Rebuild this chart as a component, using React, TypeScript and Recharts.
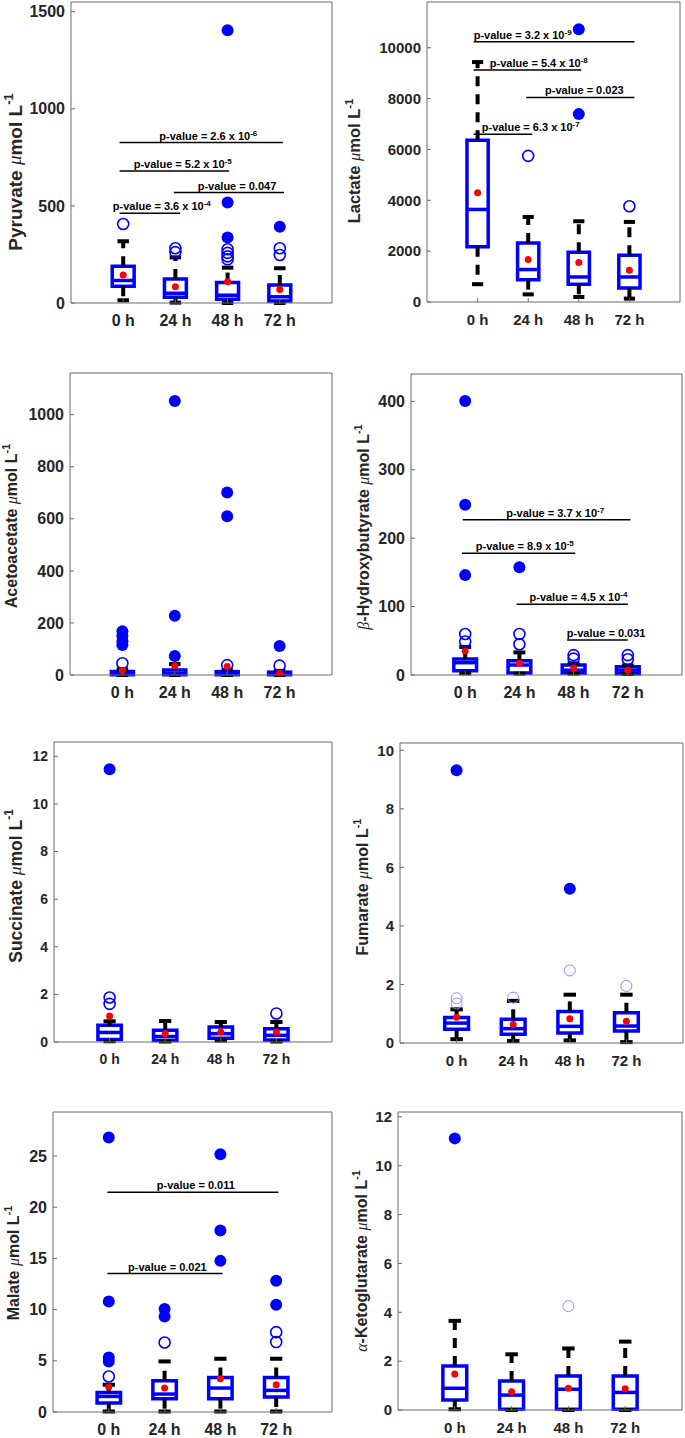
import React from 'react';
import { ComposedChart, XAxis, YAxis, Scatter, ReferenceArea, ReferenceLine } from 'recharts';

const timeLabels = ['0 h', '24 h', '48 h', '72 h'];
const groupX = [1, 2, 3, 4];

// box rows: [lower cap, q1, median, q3, upper cap] per time point
// p-values: [from x, to x, line y, text x, value, exponent]

const pyruvateTicks = [0, 500, 1000, 1500];
const pyruvateBox = [[14, 86, 116, 189, 318], [2, 29, 50, 124, 235], [0, 19, 40, 105, 182], [0, 10, 32, 93, 179]];
const pyruvateMean = [144, 84, 110, 70];
const pyruvateOpen = [[407], [282, 262], [277, 258, 240, 225], [282, 247]];
const pyruvateFilled = [[], [], [337, 517, 1404], [393]];
const pyruvateP = [
  [0.93, 2.09, 462, 1.74, '3.6 x 10', '-4'],
  [1.97, 4.08, 569, 3.18, '0.047', ''],
  [0.93, 3.03, 680, 2.14, '5.2 x 10', '-5'],
  [0.93, 4.06, 826, 2.63, '2.6 x 10', '-6'],
];

const lactateTicks = [0, 2000, 4000, 6000, 8000, 10000];
const lactateBox = [[700, 2170, 3640, 6366, 9437], [300, 880, 1276, 2323, 3346], [197, 697, 984, 1957, 3177], [134, 551, 984, 1839, 3150]];
const lactateMean = [4300, 1669, 1551, 1248];
const lactateOpen = [[], [5748], [], [3768]];
const lactateFilled = [[], [], [7390, 10724], []];
const lactateP = [
  [0.92, 2.08, 6602, 2.05, '6.3 x 10', '-7'],
  [1.96, 4.1, 8047, 3.11, '0.023', ''],
  [0.92, 3.05, 9122, 2.21, '5.4 x 10', '-8'],
  [0.92, 4.1, 10236, 1.89, '3.2 x 10', '-9'],
];

const acetoTicks = [0, 200, 400, 600, 800, 1000];
const acetoBox = [[0, 1, 5, 13, 22], [0, 1, 6, 19, 42], [0, 1, 5, 13, 18], [0, 1, 4, 11, 16]];
const acetoMean = [17, 36, 33, 6];
const acetoOpen = [[45], [], [38], [36]];
const acetoFilled = [[115, 130, 150, 168], [73, 228, 1052], [610, 701], [111]];
const acetoP: (number | string)[][] = [];

const hydroxyTicks = [0, 100, 200, 300, 400];
const hydroxyBox = [[2.4, 6.3, 18, 23.4, 41], [2, 3, 14.6, 21, 33], [2, 3, 7, 14.6, 17], [1.5, 2, 7, 12, 14]];
const hydroxyMean = [35, 17, 9.8, 7];
const hydroxyOpen = [[49, 60], [45, 60], [24, 29], [23, 29]];
const hydroxyFilled = [[146, 249, 400.5], [157.5], [], []];
const hydroxyP = [
  [2.88, 4.0, 51.2, 3.6, '0.031', ''],
  [1.95, 4.0, 103.4, 3.09, '4.5 x 10', '-4'],
  [0.94, 3.03, 178, 2.1, '8.9 x 10', '-5'],
  [0.955, 4.05, 226.8, 2.66, '3.7 x 10', '-7'],
];

const succinateTicks = [0, 2, 4, 6, 8, 10, 12];
const succinateBox = [[0.03, 0.1, 0.4, 0.7, 0.87], [0.02, 0.06, 0.23, 0.49, 0.88], [0.06, 0.16, 0.35, 0.63, 0.84], [0.02, 0.08, 0.28, 0.56, 0.84]];
const succinateMean = [1.09, 0.35, 0.42, 0.42];
const succinateOpen = [[1.6, 1.87], [], [], [1.2]];
const succinateFilled = [[11.46], [], [], []];
const succinateP: (number | string)[][] = [];

const fumarateTicks = [0, 2, 4, 6, 8, 10];
const fumarateBox = [[0.13, 0.47, 0.68, 0.87, 1.15], [0.07, 0.3, 0.49, 0.81, 1.44], [0.09, 0.34, 0.57, 1.08, 1.65], [0.03, 0.41, 0.58, 1.03, 1.65]];
const fumarateMean = [0.88, 0.63, 0.83, 0.74];
const fumarateOpen = [[1.35, 1.53], [1.55], [2.48], [1.95]];
const fumarateFilled = [[9.32], [], [5.27], []];
const fumarateP: (number | string)[][] = [];

const malateTicks = [0, 5, 10, 15, 20, 25];
const malateBox = [[0.05, 0.88, 1.52, 1.91, 2.66], [0.05, 1.3, 1.75, 3.05, 4.94], [0.05, 1.3, 2.34, 3.38, 5.2], [0.05, 1.46, 2.11, 3.38, 5.2]];
const malateMean = [2.44, 2.34, 3.25, 2.66];
const malateOpen = [[3.47], [6.79], [], [6.83, 7.8]];
const malateFilled = [[4.94, 5.33, 10.8, 26.8], [9.33, 10.05], [14.76, 17.72, 25.17], [10.47, 12.81]];
const malateP = [
  [0.975, 3.04, 13.52, 2.05, '0.021', ''],
  [0.975, 4.04, 21.46, 2.56, '0.011', ''],
];

const ketoTicks = [0, 2, 4, 6, 8, 10, 12];
const ketoBox = [[0.03, 0.41, 0.89, 1.8, 3.65], [0, 0.03, 0.61, 1.19, 2.28], [0, 0.03, 0.85, 1.39, 2.52], [0, 0.03, 0.72, 1.39, 2.8]];
const ketoMean = [1.47, 0.75, 0.89, 0.87];
const ketoOpen = [[], [], [4.25], []];
const ketoFilled = [[11.12], [], [], []];
const ketoP: (number | string)[][] = [];

const panels = [
  { greek: '', name: 'Pyruvate', yMax: 1550, ticks: pyruvateTicks, box: pyruvateBox, mean: pyruvateMean, open: pyruvateOpen, filled: pyruvateFilled, pvals: pyruvateP },
  { greek: '', name: 'Lactate', yMax: 11800, ticks: lactateTicks, box: lactateBox, mean: lactateMean, open: lactateOpen, filled: lactateFilled, pvals: lactateP },
  { greek: '', name: 'Acetoacetate', yMax: 1160, ticks: acetoTicks, box: acetoBox, mean: acetoMean, open: acetoOpen, filled: acetoFilled, pvals: acetoP },
  { greek: 'β', name: '-Hydroxybutyrate', yMax: 440, ticks: hydroxyTicks, box: hydroxyBox, mean: hydroxyMean, open: hydroxyOpen, filled: hydroxyFilled, pvals: hydroxyP },
  { greek: '', name: 'Succinate', yMax: 12.6, ticks: succinateTicks, box: succinateBox, mean: succinateMean, open: succinateOpen, filled: succinateFilled, pvals: succinateP },
  { greek: '', name: 'Fumarate', yMax: 10.25, ticks: fumarateTicks, box: fumarateBox, mean: fumarateMean, open: fumarateOpen, filled: fumarateFilled, pvals: fumarateP },
  { greek: '', name: 'Malate', yMax: 29.3, ticks: malateTicks, box: malateBox, mean: malateMean, open: malateOpen, filled: malateFilled, pvals: malateP },
  { greek: 'α', name: '-Ketoglutarate', yMax: 12.2, ticks: ketoTicks, box: ketoBox, mean: ketoMean, open: ketoOpen, filled: ketoFilled, pvals: ketoP },
];

// plot box on the page: left, top, right, bottom, title x, title centre y, title size, tick size, faint open circles
const frames: [number, number, number, number, number, number, number, number, boolean][] = [
  [71, 2, 332, 303, 17, 172, 19, 16, false],
  [427, 2, 680, 302, 356, 161, 16.5, 15, false],
  [70, 373, 332, 675, 13, 526, 16, 16, false],
  [411, 374, 682, 675, 365, 527, 16, 16, false],
  [54, 742, 332, 1042, 17, 886, 17.5, 14, false],
  [400, 743, 683, 1043, 364, 887, 16, 15, true],
  [53, 1112, 332, 1412, 15, 1263, 16, 16, false],
  [398, 1112, 682, 1410, 363, 1261, 16, 15, true],
];

const FONT = '"Liberation Sans", Arial, Helvetica, sans-serif';
const SERIF = '"Liberation Serif", "Times New Roman", serif';
const INK = '#262626';
const AXIS = '#6b6b6b';
const BLUE = '#0000ff';
const HALF = 0.21;
const CAP = 0.11;

function AxisTitle({ x, y, size, greek, name }: { x: number; y: number; size: number; greek: string; name: string }) {
  return (
    <text
      x={x}
      y={y}
      transform={`rotate(-90 ${x} ${y})`}
      textAnchor="middle"
      dominantBaseline="middle"
      fill={INK}
      fontFamily={FONT}
      fontSize={size}
      fontWeight="bold"
    >
      {greek && <tspan fontFamily={SERIF} fontStyle="italic" fontWeight="normal">{greek}</tspan>}
      <tspan>{name} </tspan>
      <tspan fontFamily={SERIF} fontStyle="italic" fontWeight="normal">μ</tspan>
      <tspan>mol L</tspan>
      <tspan fontSize={size * 0.68} dy={-size * 0.38}>-1</tspan>
    </text>
  );
}

function BoxPanel({ idx }: { idx: number }) {
  const p = panels[idx];
  const [pl, pt, pr, pb, lx, ly, ls, fs, faint] = frames[idx];
  const col = idx % 2;
  const chartLeft = col * 342;
  const width = col ? 343 : 342;
  const chartTop = Math.max(0, pt - 12);
  const height = pb - chartTop + 34;
  // the top and right axes are 1px thick, so take that off the margins
  const margin = { top: pt - chartTop - 1, right: chartLeft + width - pr - 1, bottom: 4, left: 0 };

  const meanData = p.mean.map((v, i) => ({ x: groupX[i], y: v }));
  const openData = p.open.flatMap((vals, i) => vals.map((v) => ({ x: groupX[i], y: v })));
  const filledData = p.filled.flatMap((vals, i) => vals.map((v) => ({ x: groupX[i], y: v })));
  const textData = p.pvals.map((r) => ({ x: r[3] as number, y: r[2] as number, t: r[4] as string, e: r[5] as string }));

  const tickStyle = { fill: INK, fontSize: fs, fontWeight: 'bold', fontFamily: FONT };

  return (
    <div style={{ position: 'absolute', left: chartLeft, top: chartTop, width, height }}>
      <ComposedChart width={width} height={height} margin={margin}>
        <XAxis
          type="number"
          dataKey="x"
          domain={[0, 5]}
          ticks={groupX}
          interval={0}
          allowDataOverflow
          tickFormatter={(v: number) => timeLabels[v - 1]}
          height={30}
          tickSize={-4}
          tickMargin={16}
          stroke={AXIS}
          tick={tickStyle}
        />
        <XAxis xAxisId="top" orientation="top" type="number" domain={[0, 5]} ticks={groupX} interval={0} allowDataOverflow height={1} tickSize={-4} stroke={AXIS} tick={false} />
        <YAxis
          type="number"
          dataKey="y"
          domain={[0, p.yMax]}
          ticks={p.ticks}
          interval={0}
          allowDataOverflow
          width={pl - chartLeft}
          tickSize={-4}
          tickMargin={10}
          stroke={AXIS}
          tick={tickStyle}
          label={{
            content: () => (
              <AxisTitle x={lx - chartLeft} y={ly - chartTop} size={ls} greek={p.greek} name={p.name} />
            ),
          }}
        />
        <YAxis yAxisId="right" orientation="right" type="number" domain={[0, p.yMax]} ticks={p.ticks} interval={0} allowDataOverflow width={1} tickSize={-4} stroke={AXIS} tick={false} />

        {p.box.map(([lo, q1, med, q3, hi], i) => {
          const x = groupX[i];
          return (
            <React.Fragment key={`b${i}`}>
              <ReferenceLine segment={[{ x, y: q3 }, { x, y: hi }]} stroke="#000" strokeWidth={4} strokeDasharray="10 8" ifOverflow="extendDomain" />
              <ReferenceLine segment={[{ x, y: q1 }, { x, y: lo }]} stroke="#000" strokeWidth={4} strokeDasharray="10 8" ifOverflow="extendDomain" />
              <ReferenceLine segment={[{ x: x - CAP, y: hi }, { x: x + CAP, y: hi }]} stroke="#000" strokeWidth={4} ifOverflow="extendDomain" />
              <ReferenceLine segment={[{ x: x - CAP, y: lo }, { x: x + CAP, y: lo }]} stroke="#000" strokeWidth={4} ifOverflow="extendDomain" />
              <ReferenceArea x1={x - HALF} x2={x + HALF} y1={q1} y2={q3} fill="#ffffff" fillOpacity={1} stroke={BLUE} strokeWidth={3.5} ifOverflow="extendDomain" />
              <ReferenceLine segment={[{ x: x - HALF, y: med }, { x: x + HALF, y: med }]} stroke={BLUE} strokeWidth={3.5} ifOverflow="extendDomain" />
            </React.Fragment>
          );
        })}

        {p.pvals.map((r, i) => (
          <ReferenceLine
            key={`p${i}`}
            segment={[{ x: r[0] as number, y: r[2] as number }, { x: r[1] as number, y: r[2] as number }]}
            stroke="#000"
            strokeWidth={1.5}
          />
        ))}

        <Scatter
          data={openData}
          isAnimationActive={false}
          shape={(s: any) => (
            <circle cx={s.cx} cy={s.cy} r={5.5} fill="none" stroke={faint ? '#8c8cff' : BLUE} strokeWidth={faint ? 1 : 1.6} />
          )}
        />
        <Scatter
          data={filledData}
          isAnimationActive={false}
          shape={(s: any) => <circle cx={s.cx} cy={s.cy} r={6} fill={BLUE} />}
        />
        <Scatter
          data={meanData}
          isAnimationActive={false}
          shape={(s: any) => <circle cx={s.cx} cy={s.cy} r={3.5} fill="#ff0000" />}
        />
        <Scatter
          data={textData}
          isAnimationActive={false}
          shape={(s: any) => (
            <text x={s.cx} y={s.cy - 3} textAnchor="middle" fontFamily={FONT} fontSize={11} fontWeight="bold" fill="#000">
              {`p-value = ${s.payload.t}`}
              {s.payload.e && (
                <tspan fontSize={8} dy={-4}>
                  {s.payload.e}
                </tspan>
              )}
            </text>
          )}
        />
      </ComposedChart>
    </div>
  );
}

export default function App() {
  return (
    <div style={{ position: 'absolute', left: 0, top: 0, width: 685, height: 1438, background: '#fff' }}>
      {panels.map((_, i) => (
        <BoxPanel key={i} idx={i} />
      ))}
    </div>
  );
}
